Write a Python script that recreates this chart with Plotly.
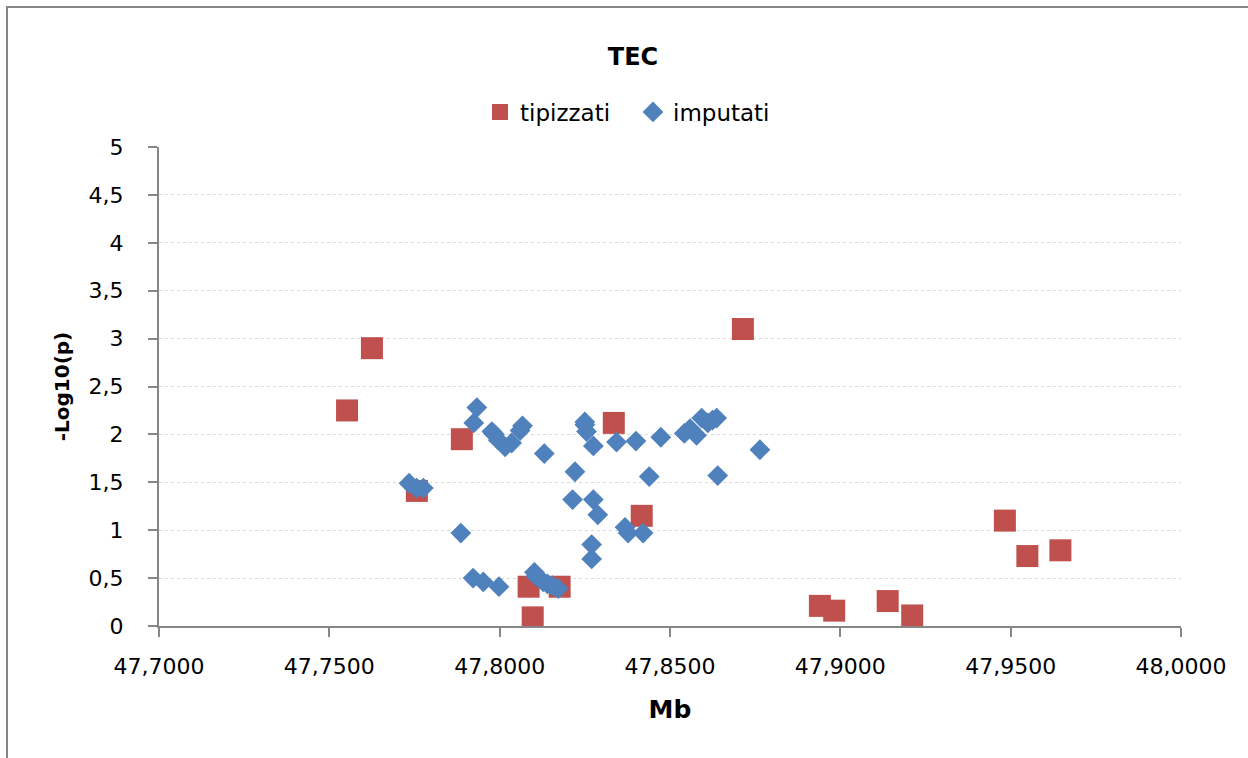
import plotly.graph_objects as go

# Genotyped SNPs (tipizzati): position in Mb and -log10(p)
tip_mb = [47.7552, 47.7625, 47.7889, 47.7757, 47.8085, 47.8176, 47.8097,
          47.8335, 47.8417, 47.8714, 47.8940, 47.8982, 47.9139, 47.9211,
          47.9483, 47.9549, 47.9646]
tip_p = [2.25, 2.90, 1.95, 1.41, 0.41, 0.41, 0.09,
         2.12, 1.15, 3.10, 0.21, 0.16, 0.26, 0.11,
         1.10, 0.73, 0.79]

# Imputed SNPs (imputati)
imp_mb = [47.7933, 47.7924, 47.7977, 47.7996, 47.8016, 47.8035, 47.8067,
          47.8060, 47.8131, 47.8221, 47.8250, 47.8255, 47.8275, 47.8343,
          47.7734, 47.7756, 47.7776, 47.7886, 47.8214, 47.8275, 47.8288,
          47.8368, 47.8377, 47.8421, 47.8270, 47.8270, 47.7922, 47.7952,
          47.7998, 47.8102, 47.8128, 47.8172, 47.8400, 47.8473, 47.8542,
          47.8578, 47.8593, 47.8637, 47.8764, 47.8439, 47.8640, 47.8559,
          47.8611, 47.8107, 47.8140, 47.8155, 47.7985, 47.8250, 47.8625]
imp_p = [2.28, 2.12, 2.03, 1.94, 1.87, 1.91, 2.09,
         2.04, 1.80, 1.61, 2.13, 2.03, 1.88, 1.92,
         1.49, 1.44, 1.44, 0.97, 1.32, 1.32, 1.16,
         1.03, 0.97, 0.97, 0.85, 0.70, 0.50, 0.46,
         0.41, 0.56, 0.46, 0.39, 1.93, 1.97, 2.01,
         1.99, 2.17, 2.17, 1.84, 1.56, 1.57, 2.06,
         2.12, 0.52, 0.44, 0.42, 2.00, 2.10, 2.15]

x_ticks = [47.70, 47.75, 47.80, 47.85, 47.90, 47.95, 48.00]
x_tick_text = ["47,7000", "47,7500", "47,8000", "47,8500", "47,9000", "47,9500", "48,0000"]
y_ticks = [0, 0.5, 1, 1.5, 2, 2.5, 3, 3.5, 4, 4.5, 5]
y_tick_text = ["0", "0,5", "1", "1,5", "2", "2,5", "3", "3,5", "4", "4,5", "5"]

RED = "#C0504D"
BLUE = "#4F81BD"
AXIS = "#868686"
GRID = "#D9D9D9"
FONT = "DejaVu Sans"

fig = go.Figure()
fig.add_trace(go.Scatter(
    x=tip_mb, y=tip_p, mode="markers", name="tipizzati",
    marker=dict(symbol="square", size=22, color=RED, line=dict(width=0)),
))
fig.add_trace(go.Scatter(
    x=imp_mb, y=imp_p, mode="markers", name="imputati",
    marker=dict(symbol="diamond", size=16, color=BLUE, line=dict(width=0)),
))

fig.update_layout(
    width=1248, height=758,
    margin=dict(l=159, r=67, t=147, b=132),
    paper_bgcolor="white", plot_bgcolor="white",
    font=dict(family=FONT, color="#000000", size=22),
    title=dict(text="<b>TEC</b>", x=633 / 1248, xanchor="center",
               y=1 - 57 / 758, yanchor="middle",
               font=dict(family=FONT, size=24, color="#000000")),
    showlegend=True,
    legend=dict(orientation="h", x=(633 - 159) / 1022, xanchor="center",
                y=1 + (147 - 112) / 479, yanchor="middle",
                font=dict(family=FONT, size=23, color="#000000"),
                bgcolor="rgba(0,0,0,0)", itemsizing="trace",
                itemwidth=30, entrywidth=108, tracegroupgap=0),
    xaxis=dict(
        range=[47.70, 48.00], tickvals=x_ticks, ticktext=x_tick_text,
        showgrid=False, zeroline=False,
        showline=True, linecolor=AXIS, linewidth=2,
        ticks="outside", ticklen=9, tickwidth=2, tickcolor=AXIS,
        tickfont=dict(family=FONT, size=22, color="#000000"),
        ticklabelstandoff=11,
        title=dict(text="<b>Mb</b>", standoff=22,
                   font=dict(family=FONT, size=25, color="#000000")),
    ),
    yaxis=dict(
        range=[0, 5], tickvals=y_ticks, ticktext=y_tick_text,
        showgrid=True, gridcolor=GRID, griddash="dot", gridwidth=1,
        zeroline=False,
        showline=True, linecolor=AXIS, linewidth=2,
        ticks="outside", ticklen=9, tickwidth=2, tickcolor=AXIS,
        tickfont=dict(family=FONT, size=22, color="#000000"),
        ticklabelstandoff=20,
        title=dict(text="<b>-Log10(p)</b>", standoff=14,
                   font=dict(family=FONT, size=20, color="#000000")),
    ),
)

# Outer chart frame
fig.add_shape(type="rect", xref="paper", yref="paper",
              x0=(7 - 159) / 1022, x1=1.3,
              y0=-0.5, y1=1 + (147 - 7) / 479,
              line=dict(color=AXIS, width=2), fillcolor="rgba(0,0,0,0)",
              layer="below")

fig.write_html("out.html")
